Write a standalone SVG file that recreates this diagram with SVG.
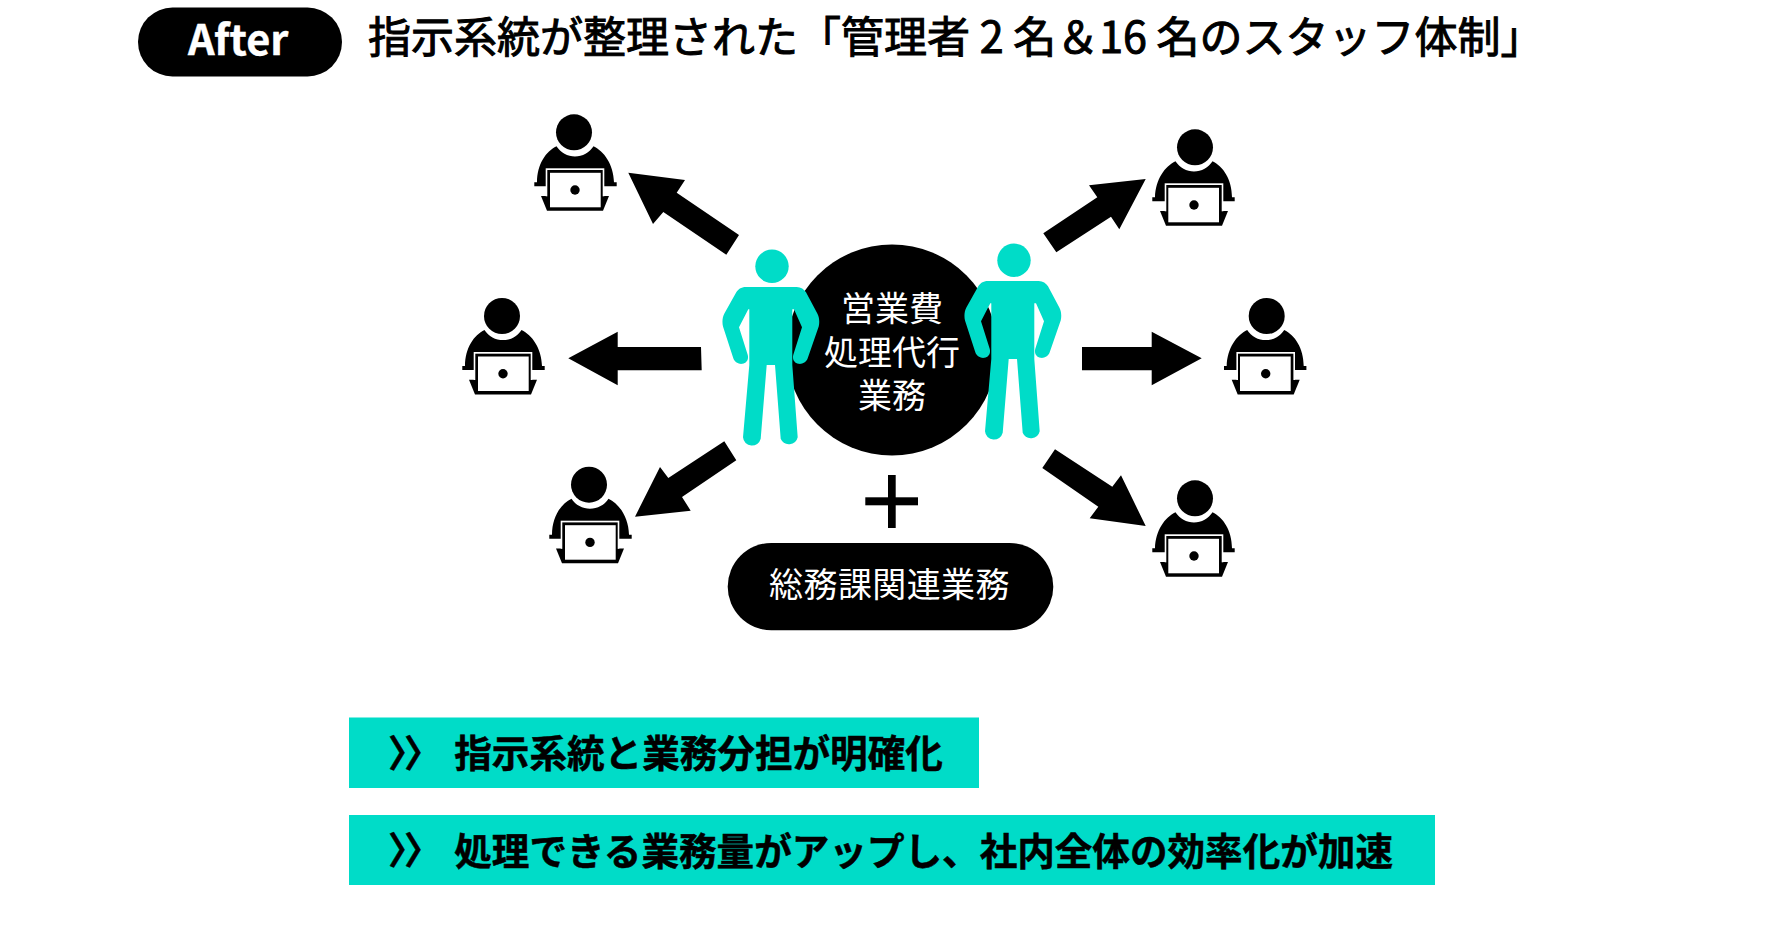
<svg xmlns="http://www.w3.org/2000/svg" xmlns:xlink="http://www.w3.org/1999/xlink" width="1771" height="946" viewBox="0 0 1771 946">
<style>
text{font-family:"Noto Sans CJK JP","Noto Sans",sans-serif}
.k{fill:#000}
.t{fill:#00dcc8}
.w{fill:#fff}
.title{font-size:43px;font-weight:400;fill:#000;stroke:#000;stroke-width:1px}
.lbl{font-size:34px;fill:#fff;text-anchor:middle}
.bar{font-size:37.6px;font-weight:700;fill:#000;stroke:#000;stroke-width:0.5px}
</style>
<defs>
<g id="worker">
<circle r="18" class="k"/>
<path class="k" d="M-17.5,14 C-28,19 -37,32 -37,50 H-39.7 V54 H42.7 V50 H40 C39.500,32 30,19 19.500,14 A22 22 0 0 1 -17.500,14 Z"/>
<path class="k" d="M-33,63.700 H35 L29,78.500 H-27 Z"/>
<rect class="w" x="-28.300" y="36" width="58.600" height="28"/>
<rect class="k" x="-26.700" y="37.700" width="55.400" height="40"/>
<rect class="w" x="-24" y="40.500" width="50.700" height="34.500"/>
<circle class="k" cx="1" cy="57.700" r="4.700"/>
</g>
<g id="man">
<circle r="16.700" class="t"/>
<path class="t" d="M-26,20.700 C-31,20.700 -34,23 -36,26.500 L-47.500,47 C-49.700,51 -50,56 -49,60.300 L-38.700,92 C-37,96.500 -33,98 -29.500,97.500 C-25.500,96.700 -23,93 -24.300,88.500 L-33,61 L-23.700,43 H-22.700 V98.700 L-29,171 A9 9 0 0 0 -11.300,172.500 L-5.300,98.700 H3 L8.700,172.500 A9 9 0 0 0 25.700,171 L20.300,98.700 V43 H22 L30,61 L21.300,88.500 C20,93 22.500,96.700 26.500,97.500 C30,98 34,96.500 35.700,92 L46.700,60.300 C47.700,56 47.400,51 45.200,47 L34,26 C32,23 29,20.700 24.700,20.700 Z"/>
</g>
</defs>
<rect width="1771" height="946" fill="#fff"/>
<g id="header">
<rect class="k" x="138" y="7.500" width="204" height="69" rx="34.500"/>
<text x="188" y="55" font-size="41.500" font-weight="700" fill="#fff" stroke="#fff" stroke-width="0.4">After</text>
<text class="title" x="368" y="52.600">指示系統が整理された「管理者 2 名＆16 名のスタッフ体制」</text>
</g>
<g id="connectors" class="k">
<polygon points="628.300,172.700 685,180 676.700,192.700 739,235 726.300,254.700 663.300,212 653,224"/>
<polygon points="568.300,358.300 617.700,331.700 617.700,347 701,347 701.700,370.300 617.700,370.300 617.700,385.300"/>
<polygon points="635,516.700 660,467 668.300,478 724.300,441.300 736.300,460.300 682,497 690.700,510.700"/>
<polygon points="1145.700,179 1119.300,229.300 1111,216.700 1056.300,252.300 1043.300,233.300 1097.300,197.300 1089,185.300"/>
<polygon points="1082,347 1151.700,347 1151.700,331.700 1201.700,358.300 1151.700,385.300 1151.700,370.300 1082,370.300"/>
<polygon points="1055,449.300 1112.300,486.700 1121,475.300 1145.700,526 1089.700,518.300 1098.300,506.700 1042.300,468"/>
</g>
<g id="center-task">
<circle class="k" cx="892" cy="350" r="105.500"/>
<text class="lbl" x="892" y="321">営業費</text>
<text class="lbl" x="892" y="364.500">処理代行</text>
<text class="lbl" x="892" y="408">業務</text>
</g>
<use id="manager-left" xlink:href="#man" href="#man" x="772" y="266.300"/>
<use id="manager-right" xlink:href="#man" href="#man" x="1014" y="260.300"/>
<use id="staff-1" xlink:href="#worker" href="#worker" transform="translate(574,132.300)"/>
<use id="staff-2" xlink:href="#worker" href="#worker" transform="translate(502,316)"/>
<use id="staff-3" xlink:href="#worker" href="#worker" transform="translate(589,484.700)"/>
<use id="staff-4" xlink:href="#worker" href="#worker" transform="translate(1195,147.300) scale(-1,1)"/>
<use id="staff-5" xlink:href="#worker" href="#worker" transform="translate(1266.700,316) scale(-1,1)"/>
<use id="staff-6" xlink:href="#worker" href="#worker" transform="translate(1195,498.300) scale(-1,1)"/>
<g id="plus" class="k">
<rect x="888" y="475" width="7.700" height="53"/>
<rect x="865.300" y="497.300" width="52.700" height="8"/>
</g>
<g id="general-affairs">
<rect class="k" x="727.700" y="543" width="325.600" height="87.300" rx="43.650"/>
<text class="lbl" x="889.500" y="597" letter-spacing="0.400">総務課関連業務</text>
</g>
<g id="result-1">
<rect class="t" x="349" y="717.500" width="630" height="70.500"/>
<text class="bar" x="388 404" y="766.500">〉〉</text>
<text class="bar" x="454.300" y="767">指示系統と業務分担が明確化</text>
</g>
<g id="result-2">
<rect class="t" x="349" y="815" width="1086" height="70"/>
<text class="bar" x="388 404" y="864">〉〉</text>
<text class="bar" x="454.300" y="864.500">処理できる業務量がアップし、社内全体の効率化が加速</text>
</g>
</svg>
